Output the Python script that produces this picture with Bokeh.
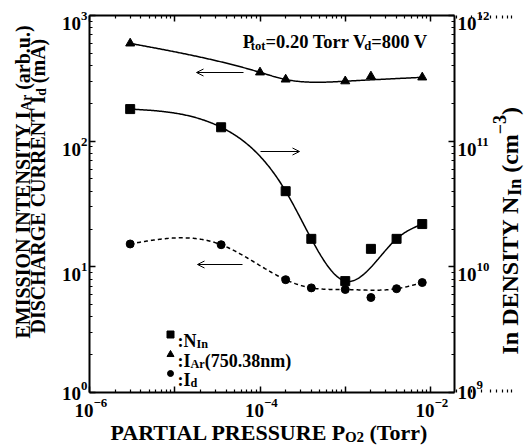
import math
import numpy as np
from bokeh.plotting import figure
from bokeh.models import (LogAxis, Range1d, LogScale, FixedTicker, Label, Arrow, OpenHead,
                          CustomJSTickFormatter)
from bokeh.embed import file_html
from bokeh.resources import INLINE

# ---------------- data ----------------
p_o2 = [3e-6, 3.5e-5, 2e-4, 4e-4, 1e-3, 2e-3, 4e-3, 8e-3]          # Torr
n_in = [1.8e11, 1.29e11, 4.0e10, 1.67e10, 7.7e9, 1.39e10, 1.67e10, 2.19e10]  # cm^-3
i_d = [15.2, 15.0, 7.9, 6.8, 6.6, 5.7, 6.7, 7.5]                  # mA
p_o2_ar = [3e-6, 1e-4, 2e-4, 1e-3, 2e-3, 8e-3]                    # Torr
i_ar = [600, 353, 310, 300, 328, 322]                             # arb.u.
fit_skip = [2e-3]     # point left out of the smooth guide curves

x_major = [1e-6, 1e-5, 1e-4, 1e-3, 1e-2]
yl_major = [1, 10, 100, 1000]
yr_major = [1e9, 1e10, 1e11, 1e12]
x_exp = ["−6", "−4", "−2"]
x_exp_at = [1e-6, 1e-4, 1e-2]
yl_exp = ["0", "1", "2", "3"]
yr_exp = ["9", "10", "11", "12"]

# ---------------- geometry ----------------
W, H = 524, 446
FL, FR, FT, FB = 89, 454, 15, 392
XDEC = 85.25
YDEC = (FB - FT) / 3.0
x_lo = 1e-6
x_hi = 10 ** (-6 + (FR - FL) / XDEC)

FONT = "Liberation Serif"

def X(px):
    return 10 ** (-6 + (px - FL) / XDEC)

def Y(py):
    return 10 ** (3 - (py - FT) / YDEC)

def YR(py):
    return 10 ** (12 - (py - FT) / YDEC)

def xpx(x):
    return FL + (math.log10(x) + 6) * XDEC

def ypx(y):
    return FT + (3 - math.log10(y)) * YDEC

def ypx_r(y):
    return FT + (12 - math.log10(y)) * YDEC

# Times-Bold advance widths (per 1000 em) used to place sub/superscript pieces
TW = {' ': 250, '(': 333, ')': 333, '.': 250, '=': 570, ':': 333, '−': 570, '-': 333,
      'A': 722, 'C': 722, 'D': 722, 'E': 667, 'G': 778, 'H': 778, 'I': 389, 'L': 667,
      'M': 944, 'N': 722, 'O': 778, 'P': 611, 'R': 722, 'S': 556, 'T': 667, 'U': 722,
      'V': 722, 'Y': 722, 'a': 500, 'b': 556, 'c': 444, 'd': 556, 'e': 444, 'm': 833,
      'n': 556, 'o': 500, 'r': 444, 't': 333, 'u': 556}
KERN_SUB = {'P': 0.18, 'V': 0.26}   # tuck a subscript under these letters

def tw(s, size):
    return sum(TW.get(ch, 500) for ch in s) * size / 1000.0

# frame covers the whole canvas; the four axes are pinned to the plot box
p = figure(width=W, height=H, x_axis_type="log", y_axis_type="log",
           x_axis_location=None, y_axis_location=None,
           x_range=Range1d(X(0), X(W)), y_range=Range1d(Y(H), Y(0)),
           min_border=0, output_backend="svg", toolbar_location=None)
p.extra_y_ranges = {"nin": Range1d(YR(H), YR(0))}
p.extra_y_scales = {"nin": LogScale()}
p.xgrid.visible = False
p.ygrid.visible = False
p.outline_line_color = None
p.background_fill_color = "white"
p.border_fill_color = "white"

def minors(lo, hi):
    return [m * 10.0 ** k for k in range(lo, hi) for m in range(2, 10)]

x_ticker = FixedTicker(ticks=x_major, minor_ticks=minors(-6, -1))
yl_ticker = FixedTicker(ticks=yl_major, minor_ticks=minors(0, 3))
yr_ticker = FixedTicker(ticks=yr_major, minor_ticks=minors(9, 12))

blank = CustomJSTickFormatter(code="return ''")
bottom_axis = LogAxis(ticker=x_ticker, fixed_location=1, bounds=(x_lo, x_hi))
top_axis = LogAxis(ticker=x_ticker, fixed_location=1000, bounds=(x_lo, x_hi))
left_axis = LogAxis(ticker=yl_ticker, fixed_location=x_lo, bounds=(1, 1000))
right_axis = LogAxis(ticker=yr_ticker, y_range_name="nin", fixed_location=x_hi, bounds=(1e9, 1e12))
p.add_layout(bottom_axis, "below")
p.add_layout(top_axis, "above")
p.add_layout(left_axis, "left")
p.add_layout(right_axis, "right")

for ax in [bottom_axis, top_axis, left_axis, right_axis]:
    ax.formatter = blank
    ax.axis_line_width = 2
    ax.axis_line_color = "black"
    ax.major_tick_in = 6
    ax.major_tick_out = 0
    ax.minor_tick_in = 3
    ax.minor_tick_out = 0
    ax.major_tick_line_width = 1.5
    ax.minor_tick_line_width = 1.2
    ax.major_tick_line_color = "black"
    ax.minor_tick_line_color = "black"
    ax.major_label_text_font_size = "1px"
    ax.major_label_standoff = 0
    ax.axis_label = None

# ---------------- rich text helper ----------------
def rich(segments, px, py, size, rotated=False, align="left", sub_scale=0.68):
    sizes = [size if k == "n" else size * sub_scale for _, k in segments]
    kerns = []
    prev = ""
    for t, k in segments:
        kerns.append(-KERN_SUB.get(prev[-1:], 0.0) * size if k == "sub" else 0.0)
        prev = t
    total = sum(tw(t, s) + kk for (t, _), s, kk in zip(segments, sizes, kerns))
    pos = {"left": 0.0, "right": -total, "center": -total / 2}[align]
    for (t, k), s, kk in zip(segments, sizes, kerns):
        pos += kk
        lead = len(t) - len(t.lstrip(" "))
        pos += tw(" " * lead, s)
        txt = t.strip(" ")
        shift = 0.0 if k == "n" else (size * 0.22 if k == "sub" else -size * 0.40)
        if rotated:
            x, y = px + shift, py - pos
        else:
            x, y = px + pos, py + shift
        if txt:
            p.add_layout(Label(x=X(x), y=Y(y), text=txt, angle=math.pi / 2 if rotated else 0,
                               text_align="left", text_baseline="alphabetic",
                               text_font=FONT, text_font_style="bold",
                               text_font_size=f"{s:.1f}px", text_color="black"))
        pos += tw(t.lstrip(" "), s)

# tick labels
TS = 19
for v, e in zip(yl_major, yl_exp):
    ty = ypx(v) + 8 - (7 if v == yl_major[0] else 0)
    rich([("10", "n"), (e, "sup")], 87, ty, TS, align="right")
for v, e in zip(yr_major, yr_exp):
    ty = ypx_r(v) + 8 - (8 if v == yr_major[0] else 0)
    rich([("10", "n"), (e, "sup")], 457, ty, TS, align="left")
for v, e in zip(x_exp_at, x_exp):
    tx = xpx(v) + 4 - tw("10", TS)
    rich([("10", "n"), (e, "sup")], tx, 410, TS, align="left")

# axis titles
rich([("PARTIAL PRESSURE P", "n"), ("O2", "sub"), (" (Torr)", "n")], 110, 432, 22)
rich([("EMISSION INTENSITY I", "n"), ("Ar", "sub"), (" (arb.u.)", "n")], 22, 338, 20, rotated=True)
rich([("DISCHARGE CURRENT I", "n"), ("d", "sub"), (" (mA)", "n")], 37, 333, 20, rotated=True)
rich([("In DENSITY N", "n"), ("In", "sub"), (" (cm", "n"), ("−3", "sup"), (")", "n")], 509, 354, 24,
     rotated=True, sub_scale=0.75)

# condition text
rich([("P", "n"), ("tot", "sub"), ("=0.20 Torr V", "n"), ("d", "sub"), ("=800 V", "n")], 427, 41, 18.5, align="right")

# legend
LEG_X = 170
leg_rows = [("square", 7, 334, [(":N", "n"), ("In", "sub")]),
            ("triangle", 7, 354, [(":I", "n"), ("Ar", "sub"), ("(750.38nm)", "n")]),
            ("circle", 6, 373, [(":I", "n"), ("d", "sub")])]
for mk, sz, ry, segs in leg_rows:
    p.scatter([X(LEG_X)], [Y(ry)], marker=mk, size=sz, color="black")
    rich(segs, 177, ry + 6, 18)

# ---------------- smooth guide curves (natural cubic spline in log-log) ----------------
def natural_spline(xs, ys, xq):
    xs = np.asarray(xs, float); ys = np.asarray(ys, float)
    n = len(xs); h = np.diff(xs)
    A = np.zeros((n, n)); r = np.zeros(n)
    A[0, 0] = A[-1, -1] = 1.0
    for i in range(1, n - 1):
        A[i, i - 1] = h[i - 1]; A[i, i] = 2 * (h[i - 1] + h[i]); A[i, i + 1] = h[i]
        r[i] = 3 * ((ys[i + 1] - ys[i]) / h[i] - (ys[i] - ys[i - 1]) / h[i - 1])
    c = np.linalg.solve(A, r)
    b = (ys[1:] - ys[:-1]) / h - h * (2 * c[:-1] + c[1:]) / 3
    d = (c[1:] - c[:-1]) / (3 * h)
    idx = np.clip(np.searchsorted(xs, xq) - 1, 0, n - 2)
    dx = xq - xs[idx]
    return ys[idx] + b[idx] * dx + c[idx] * dx ** 2 + d[idx] * dx ** 3

def guide(xs, ys):
    pts = [(x, y) for x, y in zip(xs, ys) if x not in fit_skip]
    lx = np.log10([q[0] for q in pts]); ly = np.log10([q[1] for q in pts])
    xq = np.linspace(lx[0], lx[-1], 300)
    return 10 ** xq, 10 ** natural_spline(lx, ly, xq)

gx, gy = guide(p_o2_ar, i_ar)
p.line(gx, gy, line_color="black", line_width=1.5)
gx, gy = guide(p_o2, n_in)
p.line(gx, gy, line_color="black", line_width=1.5, y_range_name="nin")
gx, gy = guide(p_o2, i_d)
p.line(gx, gy, line_color="black", line_width=1.5, line_dash="4 3")

p.scatter(p_o2_ar, i_ar, marker="triangle", size=9, color="black")
p.scatter(p_o2, n_in, marker="square", size=9, color="black", y_range_name="nin")
p.scatter(p_o2, i_d, marker="circle", size=8, color="black")

# direction arrows
for xs_, xe_, yy in [(X(243), X(196), Y(72)), (X(260), X(299), Y(151)), (X(242), X(197), Y(264))]:
    p.add_layout(Arrow(end=OpenHead(size=7, line_width=1, line_color="black"),
                       x_start=xs_, y_start=yy, x_end=xe_, y_end=yy,
                       line_width=1, line_color="black"))

open("out.html", "w").write(file_html(p, INLINE))
